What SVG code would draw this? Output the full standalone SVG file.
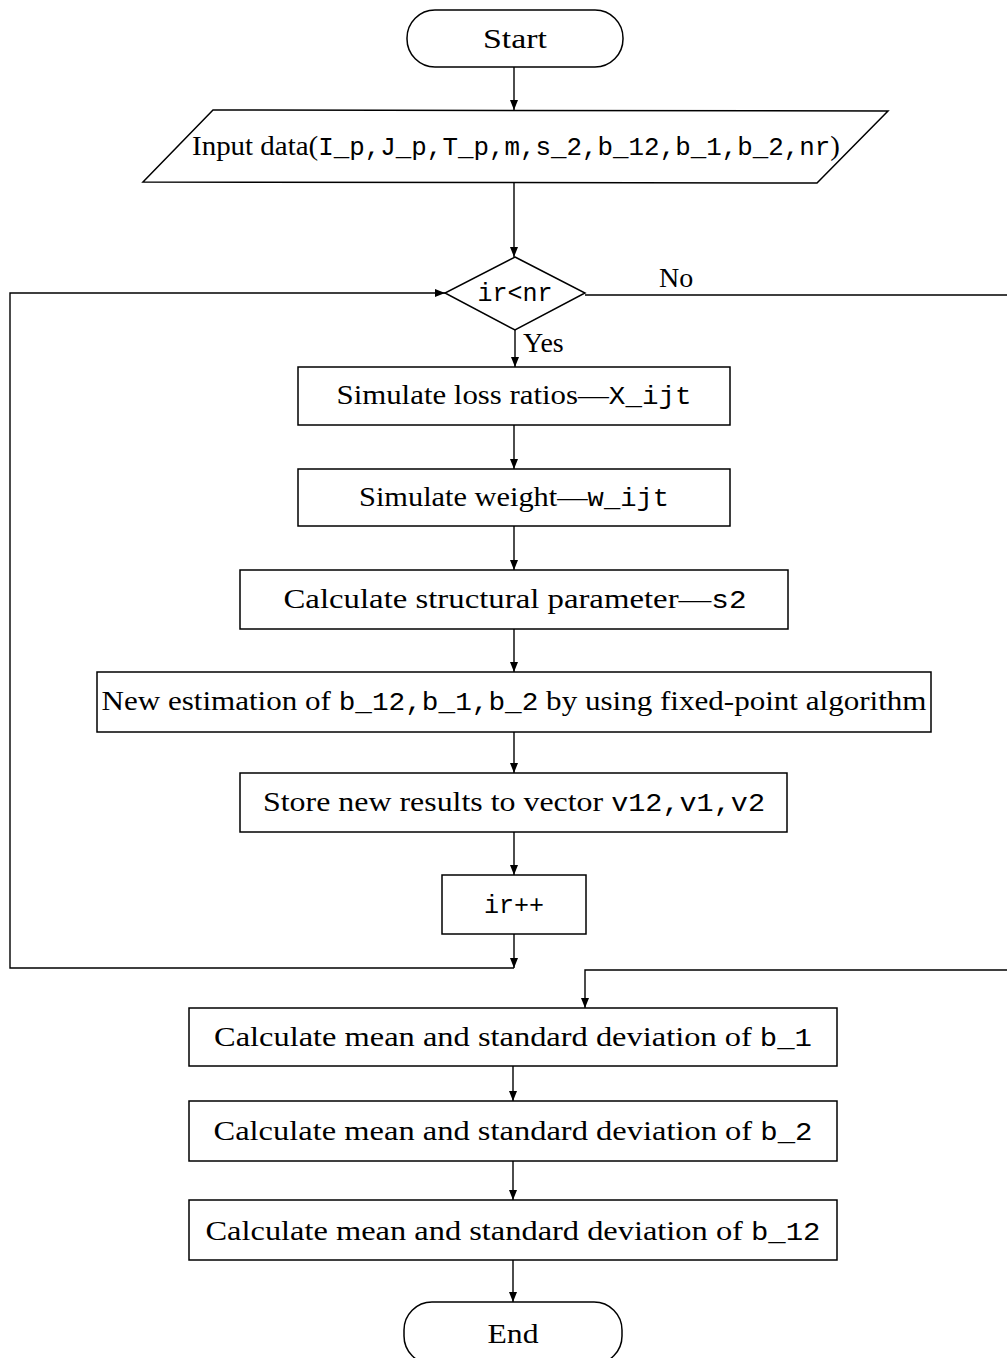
<svg xmlns="http://www.w3.org/2000/svg" width="1007" height="1358" viewBox="0 0 1007 1358">
<style>
.shape{fill:#fff;stroke:#000;stroke-width:1.5}
.conn{fill:none;stroke:#000;stroke-width:1.4}
.t{font-family:"Liberation Serif","Times New Roman",serif;font-size:28px;fill:#000}
.m{font-family:"Liberation Mono","Courier New",monospace;font-size:25px}
.c{text-anchor:middle}
</style>
<defs>
<marker id="ah" viewBox="0 0 10 8" refX="10" refY="4" markerWidth="10" markerHeight="8" markerUnits="userSpaceOnUse" orient="auto">
<path d="M0,0 L10,4 L0,8 Z" fill="#000"/>
</marker>
</defs>
<rect width="1007" height="1358" fill="#fff"/>
<g id="connectors">
<line class="conn" x1="514" y1="67" x2="514" y2="110" marker-end="url(#ah)"/>
<line class="conn" x1="514" y1="183" x2="514" y2="257" marker-end="url(#ah)"/>
<line class="conn" x1="515" y1="330" x2="515" y2="367" marker-end="url(#ah)"/>
<line class="conn" x1="514" y1="425" x2="514" y2="469" marker-end="url(#ah)"/>
<line class="conn" x1="514" y1="526" x2="514" y2="570" marker-end="url(#ah)"/>
<line class="conn" x1="514" y1="629" x2="514" y2="672" marker-end="url(#ah)"/>
<line class="conn" x1="514" y1="732" x2="514" y2="773" marker-end="url(#ah)"/>
<line class="conn" x1="514" y1="832" x2="514" y2="875" marker-end="url(#ah)"/>
<line class="conn" x1="514" y1="934" x2="514" y2="968" marker-end="url(#ah)"/>
<path class="conn" d="M514,968 H10 V293 H445" marker-end="url(#ah)"/>
<path class="conn" d="M585,295 H1015 V970 H585 V1008" marker-end="url(#ah)"/>
<line class="conn" x1="513" y1="1066" x2="513" y2="1101" marker-end="url(#ah)"/>
<line class="conn" x1="513" y1="1161" x2="513" y2="1200" marker-end="url(#ah)"/>
<line class="conn" x1="513" y1="1260" x2="513" y2="1302" marker-end="url(#ah)"/>
<text class="t" x="659" y="287">No</text>
<text class="t" x="523" y="352">Yes</text>
</g>
<g id="start">
<rect class="shape" x="407" y="10" width="216" height="57" rx="28" ry="28"/>
<text class="t c" x="515" y="48" textLength="64" lengthAdjust="spacingAndGlyphs">Start</text>
</g>
<g id="input">
<polygon class="shape" points="213,110 888,111 817,183 143,182"/>
<text class="t" x="192" y="155" textLength="648" lengthAdjust="spacingAndGlyphs">Input data(<tspan class="m">I_p,J_p,T_p,m,s_2,b_12,b_1,b_2,nr</tspan>)</text>
</g>
<g id="decision">
<polygon class="shape" points="515,257 585,293 515,330 445,293"/>
<text class="t m c" x="515" y="301">ir&lt;nr</text>
</g>
<g id="simulate-loss">
<rect class="shape" x="298" y="367" width="432" height="58"/>
<text class="t c" x="514" y="404" textLength="355" lengthAdjust="spacingAndGlyphs">Simulate loss ratios—<tspan class="m">X_ijt</tspan></text>
</g>
<g id="simulate-weight">
<rect class="shape" x="298" y="469" width="432" height="57"/>
<text class="t c" x="514" y="506" textLength="310" lengthAdjust="spacingAndGlyphs">Simulate weight—<tspan class="m">w_ijt</tspan></text>
</g>
<g id="structural">
<rect class="shape" x="240" y="570" width="548" height="59"/>
<text class="t c" x="515" y="608" textLength="463" lengthAdjust="spacingAndGlyphs">Calculate structural parameter—<tspan class="m">s2</tspan></text>
</g>
<g id="estimation">
<rect class="shape" x="97" y="672" width="834" height="60"/>
<text class="t c" x="514" y="710" textLength="825" lengthAdjust="spacingAndGlyphs">New estimation of <tspan class="m">b_12,b_1,b_2</tspan> by using fixed-point algorithm</text>
</g>
<g id="store">
<rect class="shape" x="240" y="773" width="547" height="59"/>
<text class="t c" x="514" y="811" textLength="502" lengthAdjust="spacingAndGlyphs">Store new results to vector <tspan class="m">v12,v1,v2</tspan></text>
</g>
<g id="increment">
<rect class="shape" x="442" y="875" width="144" height="59"/>
<text class="t m c" x="514" y="913">ir++</text>
</g>
<g id="mean-b1">
<rect class="shape" x="189" y="1008" width="648" height="58"/>
<text class="t c" x="513" y="1046" textLength="598" lengthAdjust="spacingAndGlyphs">Calculate mean and standard deviation of <tspan class="m">b_1</tspan></text>
</g>
<g id="mean-b2">
<rect class="shape" x="189" y="1101" width="648" height="60"/>
<text class="t c" x="513" y="1140" textLength="599" lengthAdjust="spacingAndGlyphs">Calculate mean and standard deviation of <tspan class="m">b_2</tspan></text>
</g>
<g id="mean-b12">
<rect class="shape" x="189" y="1200" width="648" height="60"/>
<text class="t c" x="513" y="1240" textLength="615" lengthAdjust="spacingAndGlyphs">Calculate mean and standard deviation of <tspan class="m">b_12</tspan></text>
</g>
<g id="end">
<rect class="shape" x="404" y="1302" width="218" height="62" rx="28" ry="28"/>
<text class="t c" x="513" y="1343" textLength="51" lengthAdjust="spacingAndGlyphs">End</text>
</g>
</svg>
